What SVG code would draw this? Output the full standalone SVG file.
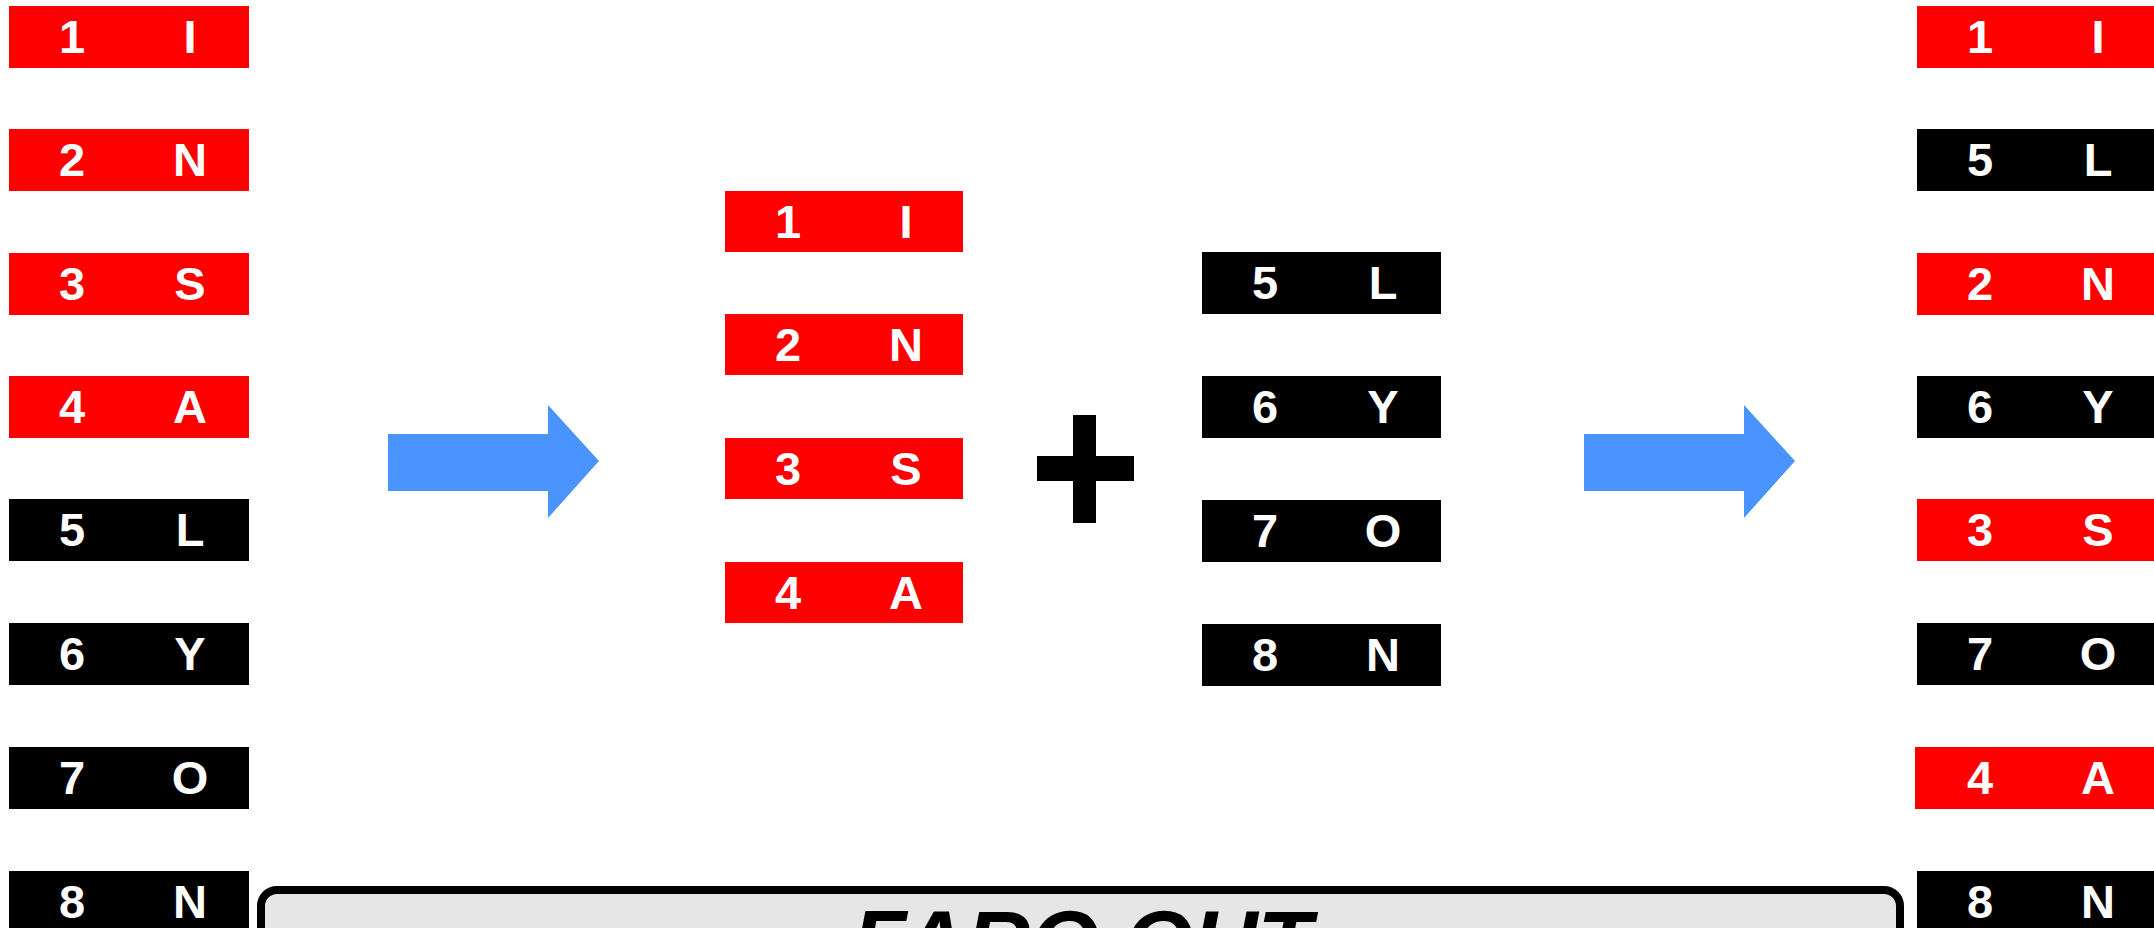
<svg xmlns="http://www.w3.org/2000/svg" width="2154" height="928" viewBox="0 0 2154 928">
<style>
.r{fill:#ff0000}
.k{fill:#000000}
.t{font-family:"Liberation Sans",Arial,sans-serif;font-weight:bold;font-size:47px;fill:#ffffff;text-anchor:middle}
.arrow{fill:#4a94ff}
.title{font-family:"Liberation Sans",Arial,sans-serif;font-weight:bold;font-style:italic;font-size:89px;fill:#000000;text-anchor:middle}
</style>
<rect width="2154" height="928" fill="#ffffff"/>
<!-- left column -->
<g id="L1"><rect class="r" x="9" y="6" width="240" height="62"/><text class="t" x="72" y="53">1</text><text class="t" x="190" y="53">I</text></g>
<g id="L2"><rect class="r" x="9" y="129" width="240" height="62"/><text class="t" x="72" y="176">2</text><text class="t" x="190" y="176">N</text></g>
<g id="L3"><rect class="r" x="9" y="253" width="240" height="62"/><text class="t" x="72" y="300">3</text><text class="t" x="190" y="300">S</text></g>
<g id="L4"><rect class="r" x="9" y="376" width="240" height="62"/><text class="t" x="72" y="423">4</text><text class="t" x="190" y="423">A</text></g>
<g id="L5"><rect class="k" x="9" y="499" width="240" height="62"/><text class="t" x="72" y="546">5</text><text class="t" x="190" y="546">L</text></g>
<g id="L6"><rect class="k" x="9" y="623" width="240" height="62"/><text class="t" x="72" y="670">6</text><text class="t" x="190" y="670">Y</text></g>
<g id="L7"><rect class="k" x="9" y="747" width="240" height="62"/><text class="t" x="72" y="794">7</text><text class="t" x="190" y="794">O</text></g>
<g id="L8"><rect class="k" x="9" y="871" width="240" height="62"/><text class="t" x="72" y="918">8</text><text class="t" x="190" y="918">N</text></g>
<!-- middle left -->
<g id="M1"><rect class="r" x="725" y="191" width="238" height="61"/><text class="t" x="788" y="238">1</text><text class="t" x="906" y="238">I</text></g>
<g id="M2"><rect class="r" x="725" y="314" width="238" height="61"/><text class="t" x="788" y="361">2</text><text class="t" x="906" y="361">N</text></g>
<g id="M3"><rect class="r" x="725" y="438" width="238" height="61"/><text class="t" x="788" y="485">3</text><text class="t" x="906" y="485">S</text></g>
<g id="M4"><rect class="r" x="725" y="562" width="238" height="61"/><text class="t" x="788" y="609">4</text><text class="t" x="906" y="609">A</text></g>
<!-- plus -->
<g id="plus"><rect class="k" x="1073" y="415" width="23" height="108"/><rect class="k" x="1037" y="456" width="97" height="25"/></g>
<!-- middle right -->
<g id="N5"><rect class="k" x="1202" y="252" width="239" height="62"/><text class="t" x="1265" y="299">5</text><text class="t" x="1383" y="299">L</text></g>
<g id="N6"><rect class="k" x="1202" y="376" width="239" height="62"/><text class="t" x="1265" y="423">6</text><text class="t" x="1383" y="423">Y</text></g>
<g id="N7"><rect class="k" x="1202" y="500" width="239" height="62"/><text class="t" x="1265" y="547">7</text><text class="t" x="1383" y="547">O</text></g>
<g id="N8"><rect class="k" x="1202" y="624" width="239" height="62"/><text class="t" x="1265" y="671">8</text><text class="t" x="1383" y="671">N</text></g>
<!-- right column -->
<g id="R1"><rect class="r" x="1917" y="6" width="240" height="62"/><text class="t" x="1980" y="53">1</text><text class="t" x="2098" y="53">I</text></g>
<g id="R2"><rect class="k" x="1917" y="129" width="240" height="62"/><text class="t" x="1980" y="176">5</text><text class="t" x="2098" y="176">L</text></g>
<g id="R3"><rect class="r" x="1917" y="253" width="240" height="62"/><text class="t" x="1980" y="300">2</text><text class="t" x="2098" y="300">N</text></g>
<g id="R4"><rect class="k" x="1917" y="376" width="240" height="62"/><text class="t" x="1980" y="423">6</text><text class="t" x="2098" y="423">Y</text></g>
<g id="R5"><rect class="r" x="1917" y="499" width="240" height="62"/><text class="t" x="1980" y="546">3</text><text class="t" x="2098" y="546">S</text></g>
<g id="R6"><rect class="k" x="1917" y="623" width="240" height="62"/><text class="t" x="1980" y="670">7</text><text class="t" x="2098" y="670">O</text></g>
<g id="R7"><rect class="r" x="1915" y="747" width="242" height="62"/><text class="t" x="1980" y="794">4</text><text class="t" x="2098" y="794">A</text></g>
<g id="R8"><rect class="k" x="1917" y="871" width="240" height="62"/><text class="t" x="1980" y="918">8</text><text class="t" x="2098" y="918">N</text></g>
<!-- connectors -->
<g id="connectors">
<polygon class="arrow" points="388,434 548,434 548,405 599,461 548,518 548,491 388,491"/>
<polygon class="arrow" points="1584,434 1744,434 1744,405 1795,461 1744,518 1744,491 1584,491"/>
</g>
<!-- title box -->
<g id="title">
<rect x="261" y="890" width="1639" height="120" rx="16" ry="16" fill="#e6e6e6" stroke="#000000" stroke-width="8"/>
<text class="title" x="1082" y="973">FARO OUT</text>
</g>
</svg>
